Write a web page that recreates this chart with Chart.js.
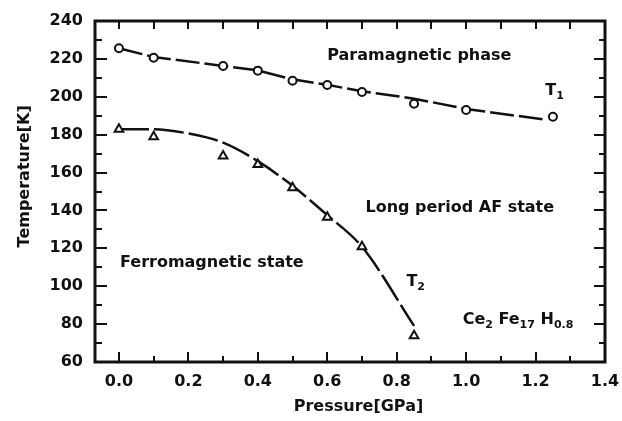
<!DOCTYPE html>
<html>
<head>
<meta charset="utf-8">
<script src="https://cdn.jsdelivr.net/npm/chart.js@4"></script>
<style>
  html, body { margin: 0; padding: 0; background: #fff; }
  #wrap { width: 622px; height: 421px; }
</style>
</head>
<body>
<div id="wrap"><canvas id="c"></canvas></div>
<script>
// ---- data ----
const pressureT1 = [0.0, 0.1, 0.3, 0.4, 0.5, 0.6, 0.7, 0.85, 1.0, 1.25];
const tempT1     = [225.6, 220.6, 216.2, 213.8, 208.5, 206.2, 202.5, 196.3, 193.0, 189.5];
const pressureT2 = [0.0, 0.1, 0.3, 0.4, 0.5, 0.6, 0.7, 0.85];
const tempT2     = [182.8, 178.9, 168.7, 164.3, 152.0, 136.4, 120.8, 73.9];
// hand-drawn guide curves through the points
const curveT1P = [0.0, 0.1, 0.3, 0.4, 0.5, 0.6, 0.7, 0.85, 1.0, 1.22];
const curveT1T = [225.6, 221.0, 216.3, 213.9, 209.2, 206.3, 202.9, 199.0, 193.6, 188.1];
const curveT2P = [0.0, 0.1, 0.2, 0.3, 0.4, 0.5, 0.6, 0.7, 0.85];
const curveT2T = [182.8, 182.9, 180.6, 175.8, 166.0, 153.0, 137.5, 120.8, 79.1];
const xTickValues = [0.0, 0.2, 0.4, 0.6, 0.8, 1.0, 1.2, 1.4];
const yTickValues = [60, 80, 100, 120, 140, 160, 180, 200, 220, 240];
const xTitle = 'Pressure[GPa]';
const yTitle = 'Temperature[K]';
// annotations: [parts, x, y]  (parts: [text, isSubscript])
const annotations = [
  [[['Paramagnetic phase', false]], 0.60, 221.5],
  [[['T', false], ['1', true]], 1.228, 203.0],
  [[['Long period AF state', false]], 0.71, 141.3],
  [[['Ferromagnetic state', false]], 0.003, 112.2],
  [[['T', false], ['2', true]], 0.828, 102.4],
  [[['Ce', false], ['2', true], [' Fe', false], ['17', true], [' H', false], ['0.8', true]], 0.99, 82.0]
];

const INK = '#111';
const FONT = '"DejaVu Sans", sans-serif';
const BOLD16 = 'bold 16px ' + FONT;

const toXY = (xs, ys) => xs.map((x, i) => ({ x: x, y: ys[i] }));

const framePlugin = {
  id: 'frameTicks',
  afterDatasetsDraw(chart) {
    const ctx = chart.ctx;
    const a = chart.chartArea;
    const xs = chart.scales.x, ys = chart.scales.y;
    ctx.save();
    ctx.strokeStyle = INK;
    ctx.lineCap = 'butt';
    ctx.lineWidth = 2;
    for (let k = 0; k <= 14; k++) {
      const v = k / 10;
      const px = Math.round(xs.getPixelForValue(v));
      const major = k % 2 === 0;
      ctx.beginPath();
      ctx.moveTo(px, a.bottom); ctx.lineTo(px, a.bottom - (major ? 10 : 6));
      ctx.moveTo(px, a.top); ctx.lineTo(px, a.top + 8);
      ctx.stroke();
    }
    for (let v = 70; v < 240; v += 10) {
      const py = Math.round(ys.getPixelForValue(v));
      const major = v % 20 === 0;
      ctx.beginPath();
      ctx.moveTo(a.left, py); ctx.lineTo(a.left + (major ? 12 : 7), py);
      ctx.moveTo(a.right, py); ctx.lineTo(a.right - (major ? 11 : 6), py);
      ctx.stroke();
    }
    ctx.lineWidth = 3;
    ctx.strokeRect(a.left, a.top, a.right - a.left, a.bottom - a.top);
    ctx.restore();
  },
  afterDraw(chart) {
    const ctx = chart.ctx;
    const xs = chart.scales.x, ys = chart.scales.y;
    ctx.save();
    ctx.fillStyle = INK;
    ctx.textBaseline = 'middle';
    ctx.textAlign = 'left';
    annotations.forEach(([parts, xv, yv]) => {
      let px = xs.getPixelForValue(xv);
      const py = ys.getPixelForValue(yv);
      parts.forEach(([t, sub]) => {
        ctx.font = sub ? 'bold 11px ' + FONT : BOLD16;
        ctx.fillText(t, px, sub ? py + 5 : py);
        px += ctx.measureText(t).width;
      });
    });
    // axis titles
    ctx.font = BOLD16;
    ctx.textAlign = 'center';
    ctx.fillText(xTitle, xs.getPixelForValue(0.69), 407);
    ctx.translate(25, ys.getPixelForValue(158));
    ctx.rotate(-Math.PI / 2);
    ctx.fillText(yTitle, 0, 0);
    ctx.restore();
  }
};

new Chart(document.getElementById('c'), {
  type: 'scatter',
  data: {
    datasets: [
      {
        label: 'T1 curve', type: 'line', data: toXY(curveT1P, curveT1T),
        borderColor: INK, borderWidth: 2.5, borderDash: [24, 5], pointRadius: 0,
        tension: 0, fill: false, order: 3
      },
      {
        label: 'T2 curve', type: 'line', data: toXY(curveT2P, curveT2T),
        borderColor: INK, borderWidth: 2.5, borderDash: [30, 5], pointRadius: 0,
        cubicInterpolationMode: 'monotone', fill: false, order: 3
      },
      {
        label: 'T1', data: toXY(pressureT1, tempT1), pointStyle: 'circle',
        pointRadius: 4, borderColor: INK, backgroundColor: '#fff', borderWidth: 2, order: 1
      },
      {
        label: 'T2', data: toXY(pressureT2, tempT2), pointStyle: 'triangle',
        pointRadius: 5, borderColor: INK, backgroundColor: '#fff', borderWidth: 2, order: 1
      }
    ]
  },
  options: {
    responsive: true,
    maintainAspectRatio: false,
    animation: false,
    layout: { padding: { top: 21, right: 17, left: 0, bottom: 0 } },
    plugins: { legend: { display: false }, tooltip: { enabled: false } },
    scales: {
      x: {
        type: 'linear', min: -0.069, max: 1.4,
        grid: { display: false, drawTicks: false },
        border: { display: false },
        afterBuildTicks: (s) => { s.ticks = xTickValues.map(v => ({ value: v })); },
        afterFit: (s) => { s.height = 59; s.paddingLeft = 0; s.paddingRight = 0; },
        ticks: {
          padding: 10, color: INK, maxRotation: 0, autoSkip: false,
          font: { family: FONT, size: 16, weight: 'bold' },
          callback: (v) => Number(v).toFixed(1)
        },
        title: { display: false }
      },
      y: {
        type: 'linear', min: 60, max: 240,
        grid: { display: false, drawTicks: false },
        border: { display: false },
        afterBuildTicks: (s) => { s.ticks = yTickValues.map(v => ({ value: v })); },
        afterFit: (s) => { s.width = 95; s.paddingTop = 0; s.paddingBottom = 0; },
        ticks: {
          padding: 12, color: INK, autoSkip: false,
          font: { family: FONT, size: 16, weight: 'bold' }
        },
        title: { display: false }
      }
    }
  },
  plugins: [framePlugin]
});
</script>
</body>
</html>
